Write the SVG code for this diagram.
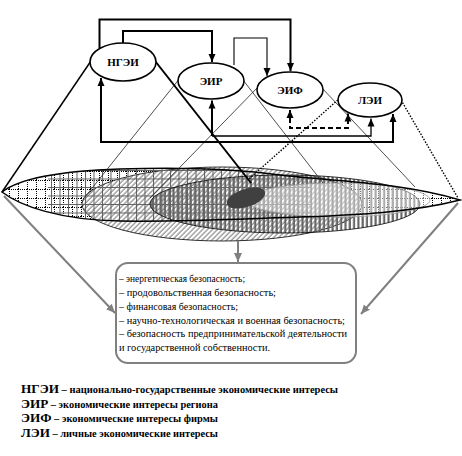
<svg xmlns="http://www.w3.org/2000/svg" width="462" height="456" viewBox="0 0 462 456">
<style>
.ov{fill:#fff;stroke:#000;stroke-width:1.6}
.lbl{font-weight:bold;font-size:11px;text-anchor:middle}
.thick{fill:none;stroke:#000;stroke-width:2}
.thin{fill:none;stroke:#000;stroke-width:1.1}
.cone{fill:none;stroke:#222;stroke-width:0.8}
.dot{fill:none;stroke:#000;stroke-width:1.4;stroke-dasharray:1.5 1.5}
.gray{fill:none;stroke:#808080;stroke-width:2}
.bt{font-size:10.5px}
.lg{font-weight:bold;font-size:9.5px}
.ab{font-size:12px}
</style>
<defs>
<marker id="ah" markerWidth="8" markerHeight="8" refX="8" refY="4" orient="auto-start-reverse" markerUnits="userSpaceOnUse"><path d="M0,0.5 L8,4 L0,7.5 Z" fill="#000"/></marker>
<marker id="ahg" markerWidth="9" markerHeight="9" refX="9" refY="4.5" orient="auto" markerUnits="userSpaceOnUse"><path d="M0,0.5 L9,4.5 L0,8.5 Z" fill="#808080"/></marker>
<pattern id="dotgrid" width="9" height="9" patternUnits="userSpaceOnUse"><rect width="9" height="9" fill="#fff"/><path d="M0,0.5H9M0.5,0V9" stroke="#000" stroke-width="1" stroke-dasharray="1 1"/></pattern>
<pattern id="grid" width="8.5" height="8.5" patternUnits="userSpaceOnUse"><path d="M0,0.5H8.5M0.5,0V8.5" stroke="#606060" stroke-width="1"/></pattern>
<pattern id="hatch" width="3.5" height="3.5" patternUnits="userSpaceOnUse" patternTransform="rotate(45)"><rect width="3.5" height="3.5" fill="#fff"/><path d="M1,0V3.5" stroke="#333" stroke-width="0.7"/></pattern>
<pattern id="stripes" width="4.3" height="10" patternUnits="userSpaceOnUse"><path d="M1.5,0V10" stroke="#666" stroke-width="2.2"/></pattern>
<path id="e1" d="M2,192 C20,178 60,171 120,169 C180,167 230,168 280,175 C330,181 400,182 460,200 C410,213 350,215 300,217 C240,219 180,222 120,221 C60,220 20,206 2,192 Z"/>
<clipPath id="c1"><use href="#e1"/></clipPath>
</defs>

<g id="lower-ellipses">
<use href="#e1" fill="url(#dotgrid)"/>
<ellipse cx="222" cy="204" rx="140" ry="37" fill="url(#hatch)" stroke="#000" stroke-width="0.8"/>
<rect x="48" y="160" width="262" height="70" fill="url(#grid)" clip-path="url(#c1)"/>
<ellipse cx="285" cy="204" rx="135" ry="29" fill="url(#stripes)" stroke="#000" stroke-width="0.8"/>
<ellipse cx="338" cy="200" rx="92" ry="17" fill="#fff" fill-opacity="0.45" stroke="#999" stroke-width="0.8"/>
<use href="#e1" fill="none" stroke="#000" stroke-width="1.5"/>
<ellipse cx="246" cy="198" rx="20" ry="9" transform="rotate(-18 246 198)" fill="#404040"/>
</g>

<g id="connectors">
<path class="cone" d="M180,78 L85,197 M243,80 L323,183 M259,86 L150,198 M322,88 L415,187"/>
<path class="dot" d="M340,98 L249,179 M401,100 L458,198"/>
<path d="M2,192 L93,58" fill="none" stroke="#000" stroke-width="1.5"/>
<path d="M148,52 L251,183" fill="none" stroke="#000" stroke-width="2"/>
<path class="thick" d="M99.5,48 V19.5 H290.5 V71" marker-end="url(#ah)"/>
<path class="thick" d="M123,43 V31 H212 V62" marker-end="url(#ah)"/>
<path class="thin" d="M234,65 V38 H267 V76" marker-end="url(#ah)"/>
<path class="thick" d="M101,78 V142 H393 V114" marker-start="url(#ah)" marker-end="url(#ah)"/>
<path class="thick" d="M212,136 V100.5" marker-end="url(#ah)"/>
<path fill="none" stroke="#000" stroke-width="1.3" d="M212,136 H371 V118.5" marker-end="url(#ah)"/>
<path fill="none" stroke="#000" stroke-width="2" stroke-dasharray="5 3" d="M290,110 V128 H348 V113.5" marker-start="url(#ah)" marker-end="url(#ah)"/>
<path class="gray" d="M4,196 L115,313" marker-end="url(#ahg)"/>
<path class="gray" d="M458,203 L361,314" marker-end="url(#ahg)"/>
<path class="gray" d="M238,241 V262" marker-end="url(#ahg)"/>
</g>

<g font-family="'Liberation Serif', 'DejaVu Serif', serif">
<g id="n-ngei"><ellipse class="ov" cx="123" cy="62" rx="33" ry="19"/><text class="lbl" x="123" y="66">НГЭИ</text></g>
<g id="n-eir"><ellipse class="ov" cx="211" cy="81" rx="33" ry="18"/><text class="lbl" x="211" y="85">ЭИР</text></g>
<g id="n-eif"><ellipse class="ov" cx="290" cy="90" rx="33" ry="18"/><text class="lbl" x="290" y="94">ЭИФ</text></g>
<g id="n-lei"><ellipse class="ov" cx="370" cy="100" rx="32" ry="17"/><text class="lbl" x="370" y="104">ЛЭИ</text></g>

<g id="box">
<rect x="116" y="263" width="240" height="100" rx="12" fill="#fff" stroke="#808080" stroke-width="2"/>
<text class="bt" x="119" y="282" textLength="126" lengthAdjust="spacingAndGlyphs">– энергетическая безопасность;</text>
<text class="bt" x="119" y="296" textLength="157" lengthAdjust="spacingAndGlyphs">– продовольственная безопасность;</text>
<text class="bt" x="119" y="310" textLength="119" lengthAdjust="spacingAndGlyphs">– финансовая безопасность;</text>
<text class="bt" x="119" y="323.5" textLength="226" lengthAdjust="spacingAndGlyphs">– научно-технологическая и военная безопасность;</text>
<text class="bt" x="119" y="337" textLength="228" lengthAdjust="spacingAndGlyphs">– безопасность предпринимательской деятельности</text>
<text class="bt" x="119" y="351" textLength="151" lengthAdjust="spacingAndGlyphs">и государственной собственности.</text>
</g>

<g id="legend">
<text class="lg" x="21" y="393" textLength="317" lengthAdjust="spacingAndGlyphs"><tspan class="ab">НГЭИ</tspan> – национально-государственные экономические интересы</text>
<text class="lg" x="21" y="407.5" textLength="197" lengthAdjust="spacingAndGlyphs"><tspan class="ab">ЭИР</tspan> – экономические интересы региона</text>
<text class="lg" x="21" y="421.5" textLength="197" lengthAdjust="spacingAndGlyphs"><tspan class="ab">ЭИФ</tspan> – экономические интересы фирмы</text>
<text class="lg" x="21" y="437" textLength="197" lengthAdjust="spacingAndGlyphs"><tspan class="ab">ЛЭИ</tspan> – личные экономические интересы</text>
</g>
</g>
</svg>
